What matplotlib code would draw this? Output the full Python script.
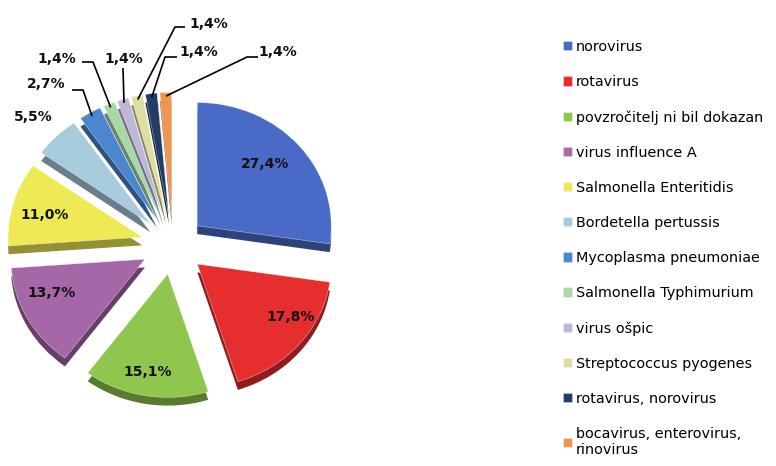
import matplotlib
matplotlib.use("Agg")
import matplotlib.pyplot as plt
import numpy as np
from matplotlib.colors import to_rgb
from matplotlib.transforms import Affine2D

categories = [
    "norovirus",
    "rotavirus",
    "povzročitelj ni bil dokazan",
    "virus influence A",
    "Salmonella Enteritidis",
    "Bordetella pertussis",
    "Mycoplasma pneumoniae",
    "Salmonella Typhimurium",
    "virus ošpic",
    "Streptococcus pyogenes",
    "rotavirus, norovirus",
    "bocavirus, enterovirus,\nrinovirus",
]
percent = [27.4, 17.8, 15.1, 13.7, 11.0, 5.5, 2.7, 1.4, 1.4, 1.4, 1.4, 1.4]
colors = ["#4A6AC8", "#E62E2E", "#8EC64E", "#A567A8", "#EEEA55", "#A8CCDD",
          "#4C86CE", "#A8D8A8", "#BEB8D8", "#DEDEA2", "#213D63", "#F09550"]

W, H = 776, 466
fig = plt.figure(figsize=(W / 100, H / 100), dpi=100)
ax = fig.add_axes([0, 0, 1, 1])

cx, cy_img, R = 173, 245, 134
cyd = H - cy_img
explode = [32] * len(percent)
depth = 9
squash = Affine2D().translate(-cx, -cyd).scale(1, 0.92).translate(cx, cyd)

dark = [tuple(c * 0.62 for c in to_rgb(col)) for col in colors]
shadow, _ = ax.pie(percent, colors=dark, startangle=90, counterclock=False,
                   explode=explode, radius=R, center=(cx, cyd - depth),
                   wedgeprops=dict(linewidth=0), frame=False)
wedges, _ = ax.pie(percent, colors=colors, startangle=90, counterclock=False,
                   explode=explode, radius=R, center=(cx, cyd),
                   wedgeprops=dict(linewidth=0.4, edgecolor=(1, 1, 1, 0.6)),
                   frame=False)
for w in list(shadow) + list(wedges):
    w.set_transform(squash + ax.transData)

def fmt(v):
    return f"{v:.1f}".replace(".", ",") + "%"

# inner label placement: (fraction along slice, radial distance)
label_frac = [0.46, 0.365, 0.52, 0.65, 0.45]
label_dist = [0.71, 0.82, 0.81, 0.75, 0.75]
for i, w in enumerate(wedges[:5]):
    t1, t2 = w.theta1, w.theta2
    # counterclock=False: slice runs from theta2 down to theta1
    ang = np.deg2rad(t2 - label_frac[i] * (t2 - t1))
    x = w.center[0] + label_dist[i] * R * np.cos(ang)
    y = w.center[1] + label_dist[i] * R * np.sin(ang)
    x, y = squash.transform((x, y))
    ax.text(x, y, fmt(percent[i]), ha="center", va="center",
            fontsize=10, fontweight="bold", color="#111111")

# outer labels: (text centre, elbow, stub end) in image pixels
outer = {
    5: ((33, 117), None, None),
    6: ((46, 84), (83, 90), (72, 90)),
    7: ((57, 59), (93, 62), (82, 62)),
    8: ((124, 59), (123, 68), (123, 68)),
    9: ((209, 24), (175, 27), (185, 27)),
    10: ((199, 52), (165, 57), (177, 57)),
    11: ((278, 52), (247, 57), (258, 57)),
}
for i, (tpos, elbow, stub) in outer.items():
    ax.text(tpos[0], H - tpos[1], fmt(percent[i]), ha="center", va="center",
            fontsize=10, fontweight="bold", color="#111111")
    if elbow is not None:
        w = wedges[i]
        mid = np.deg2rad((w.theta1 + w.theta2) / 2)
        axp, ayp = squash.transform((w.center[0] + 0.97 * R * np.cos(mid),
                                     w.center[1] + 0.97 * R * np.sin(mid)))
        ax.plot([axp, elbow[0], stub[0]], [ayp, H - elbow[1], H - stub[1]],
                color="black", lw=1.2, solid_capstyle="butt", zorder=5)

ax.set_xlim(0, W)
ax.set_ylim(0, H)
ax.set_aspect("auto")
ax.axis("off")

fig.legend(wedges, categories, loc="upper left",
           bbox_to_anchor=(563 / W, 1 - 40 / H), frameon=False,
           fontsize=10.4, handlelength=0.6, handleheight=0.6,
           handletextpad=0.3, labelspacing=1.46, borderaxespad=0,
           borderpad=0)

fig.savefig("out.png", dpi=100)
